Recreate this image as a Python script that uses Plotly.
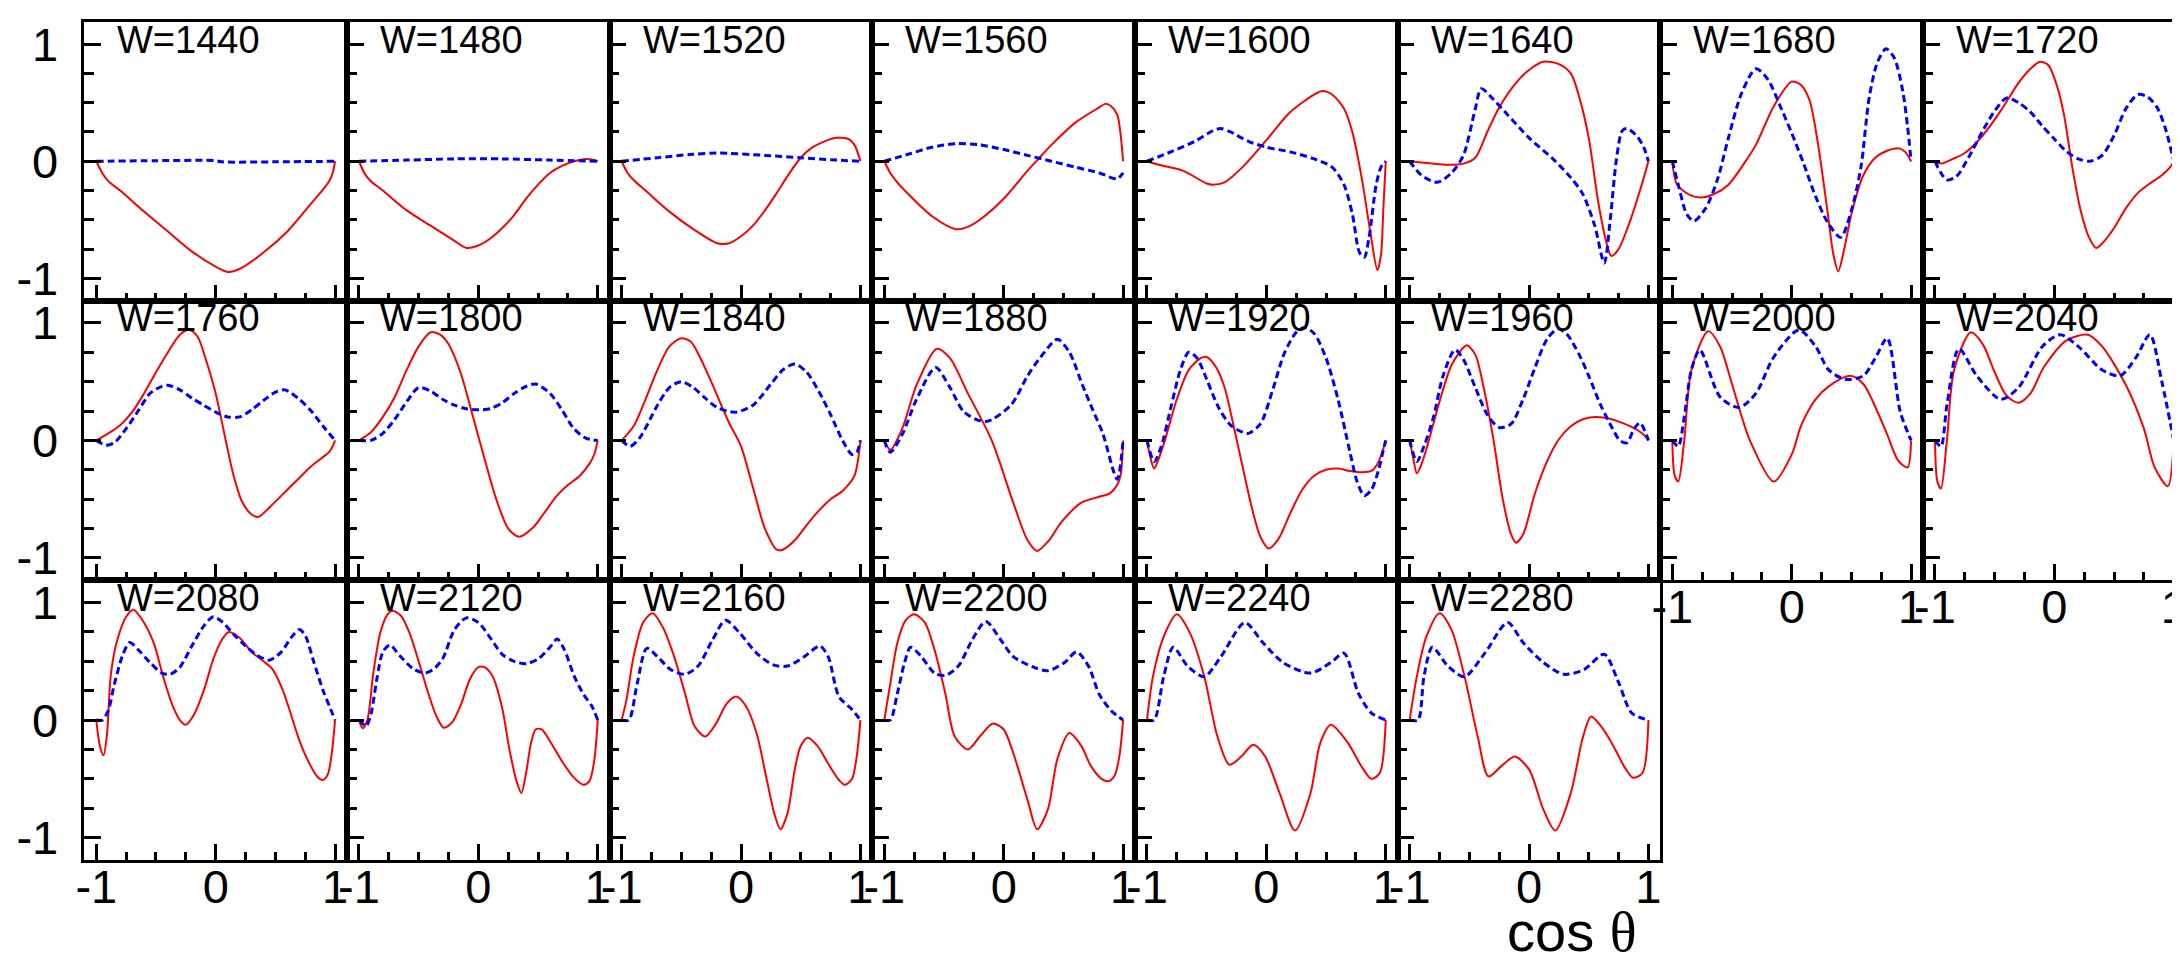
import plotly.graph_objects as go

# ---------------- data ----------------
W_LABELS = [1440, 1480, 1520, 1560, 1600, 1640, 1680, 1720,
            1760, 1800, 1840, 1880, 1920, 1960, 2000, 2040,
            2080, 2120, 2160, 2200, 2240, 2280]
X_TICKS = [-1, 0, 1]
Y_TICKS = [-1, 0, 1]
MINOR_TICKS = [-0.75, -0.5, -0.25, 0.25, 0.5, 0.75]

r1440_x = [-1, -0.95, -0.9, -0.8, -0.6, -0.4, -0.2, 0, 0.1, 0.2, 0.4, 0.6, 0.8, 0.9, 0.95, 0.98, 1]
r1440_y = [0, -0.1, -0.17, -0.25, -0.43, -0.6, -0.77, -0.9, -0.945, -0.92, -0.78, -0.6, -0.36, -0.24, -0.17, -0.1, 0]
b1440_x = [-1, -0.5, 0, 0.05, 0.5, 1]
b1440_y = [0, 0.005, 0.005, -0.005, -0.005, 0]

r1480_x = [-1, -0.95, -0.9, -0.8, -0.6, -0.4, -0.2, -0.1, 0, 0.1, 0.2, 0.3, 0.4, 0.5, 0.6, 0.7, 0.8, 0.9, 0.95, 1]
r1480_y = [0, -0.11, -0.17, -0.25, -0.42, -0.55, -0.68, -0.74, -0.72, -0.66, -0.57, -0.46, -0.32, -0.2, -0.1, -0.04, 0.0, 0.02, 0.015, 0]
b1480_x = [-1, -0.6, -0.2, 0.2, 0.6, 1]
b1480_y = [0, 0.01, 0.02, 0.02, 0.01, 0]

r1520_x = [-1, -0.95, -0.9, -0.8, -0.6, -0.4, -0.2, -0.1, 0, 0.1, 0.2, 0.3, 0.4, 0.5, 0.6, 0.7, 0.8, 0.9, 0.95, 1]
r1520_y = [0, -0.1, -0.16, -0.25, -0.43, -0.58, -0.70, -0.70, -0.64, -0.55, -0.42, -0.27, -0.11, 0.03, 0.12, 0.17, 0.2, 0.19, 0.14, 0]
b1520_x = [-1, -0.7, -0.4, -0.2, 0.2, 0.5, 0.8, 1]
b1520_y = [0, 0.03, 0.06, 0.07, 0.05, 0.03, 0.01, 0]

r1560_x = [-1, -0.95, -0.9, -0.8, -0.6, -0.4, -0.3, -0.2, 0, 0.2, 0.3, 0.4, 0.6, 0.8, 0.85, 0.9, 0.95, 1]
r1560_y = [0, -0.1, -0.17, -0.28, -0.47, -0.58, -0.56, -0.5, -0.32, -0.08, 0.03, 0.14, 0.33, 0.46, 0.49, 0.47, 0.4, 0]
b1560_x = [-1, -0.8, -0.6, -0.4, -0.2, 0, 0.2, 0.4, 0.6, 0.8, 0.95, 1]
b1560_y = [0, 0.06, 0.12, 0.15, 0.14, 0.1, 0.05, 0.0, -0.05, -0.1, -0.15, -0.1]

r1600_x = [-1, -0.9, -0.7, -0.5, -0.45, -0.35, -0.2, 0, 0.2, 0.4, 0.47, 0.55, 0.65, 0.72, 0.8, 0.87, 0.93, 0.96, 0.98, 1]
r1600_y = [0, -0.03, -0.08, -0.19, -0.2, -0.18, -0.05, 0.18, 0.42, 0.57, 0.6, 0.57, 0.45, 0.25, -0.15, -0.6, -0.93, -0.8, -0.4, 0]
b1600_x = [-1, -0.8, -0.6, -0.45, -0.38, -0.3, -0.15, 0, 0.2, 0.4, 0.55, 0.65, 0.72, 0.78, 0.82, 0.86, 0.92, 0.96, 1]
b1600_y = [0, 0.08, 0.17, 0.26, 0.28, 0.25, 0.17, 0.12, 0.08, 0.02, -0.05, -0.2, -0.45, -0.78, -0.82, -0.65, -0.2, -0.05, 0]

r1640_x = [-1, -0.9, -0.7, -0.55, -0.45, -0.35, -0.25, -0.1, 0, 0.12, 0.25, 0.35, 0.42, 0.5, 0.58, 0.65, 0.69, 0.75, 0.85, 0.95, 1]
r1640_y = [0, -0.01, -0.03, -0.02, 0.03, 0.25, 0.46, 0.68, 0.78, 0.85, 0.83, 0.75, 0.55, 0.2, -0.35, -0.7, -0.81, -0.75, -0.5, -0.18, 0]
b1640_x = [-1, -0.9, -0.77, -0.65, -0.55, -0.45, -0.4, -0.3, -0.2, 0, 0.2, 0.35, 0.45, 0.55, 0.63, 0.68, 0.73, 0.78, 0.82, 0.9, 0.96, 1]
b1640_y = [0, -0.12, -0.18, -0.1, 0.05, 0.45, 0.62, 0.53, 0.42, 0.2, 0.02, -0.14, -0.28, -0.55, -0.87, -0.5, 0.0, 0.26, 0.28, 0.22, 0.12, 0]

r1680_x = [-1, -0.96, -0.85, -0.76, -0.65, -0.53, -0.4, -0.3, -0.15, 0, 0.08, 0.15, 0.22, 0.3, 0.35, 0.39, 0.44, 0.5, 0.6, 0.7, 0.8, 0.9, 0.95, 1]
r1680_y = [0, -0.2, -0.29, -0.31, -0.28, -0.2, -0.02, 0.14, 0.47, 0.68, 0.65, 0.52, 0.15, -0.43, -0.8, -0.94, -0.75, -0.45, -0.12, 0.03, 0.09, 0.11, 0.08, 0]
b1680_x = [-1, -0.95, -0.88, -0.82, -0.72, -0.62, -0.53, -0.42, -0.3, -0.2, -0.1, 0, 0.1, 0.2, 0.3, 0.41, 0.5, 0.58, 0.65, 0.72, 0.79, 0.86, 0.93, 0.97, 1]
b1680_y = [0, -0.2, -0.45, -0.51, -0.4, -0.15, 0.2, 0.58, 0.79, 0.7, 0.48, 0.24, -0.02, -0.3, -0.52, -0.65, -0.42, -0.05, 0.55, 0.85, 0.96, 0.88, 0.6, 0.3, 0]

r1720_x = [-1, -0.95, -0.85, -0.75, -0.6, -0.45, -0.3, -0.2, -0.12, -0.05, 0.02, 0.08, 0.15, 0.22, 0.29, 0.35, 0.42, 0.5, 0.6, 0.7, 0.8, 0.9, 0.97, 1]
r1720_y = [0, -0.02, 0.02, 0.07, 0.22, 0.43, 0.67, 0.79, 0.85, 0.82, 0.65, 0.4, -0.05, -0.42, -0.65, -0.74, -0.68, -0.57, -0.4, -0.27, -0.19, -0.12, -0.05, 0]
b1720_x = [-1, -0.95, -0.9, -0.82, -0.72, -0.6, -0.5, -0.4, -0.3, -0.2, -0.1, 0, 0.1, 0.2, 0.3, 0.4, 0.5, 0.6, 0.7, 0.78, 0.86, 0.93, 1]
b1720_y = [0, -0.1, -0.16, -0.13, 0.03, 0.26, 0.43, 0.54, 0.5, 0.42, 0.3, 0.19, 0.085, 0.02, 0.0, 0.05, 0.22, 0.45, 0.57, 0.55, 0.46, 0.28, 0]

r1760_x = [-1, -0.9, -0.8, -0.7, -0.6, -0.5, -0.4, -0.3, -0.22, -0.15, -0.08, 0, 0.08, 0.15, 0.22, 0.3, 0.36, 0.45, 0.6, 0.7, 0.8, 0.9, 0.95, 0.98, 1]
r1760_y = [0, 0.06, 0.13, 0.24, 0.4, 0.58, 0.75, 0.9, 0.94, 0.88, 0.68, 0.4, 0.02, -0.3, -0.52, -0.63, -0.65, -0.57, -0.42, -0.32, -0.22, -0.14, -0.1, -0.05, 0]
b1760_x = [-1, -0.92, -0.85, -0.75, -0.65, -0.55, -0.45, -0.4, -0.3, -0.2, -0.1, 0, 0.1, 0.2, 0.3, 0.4, 0.5, 0.58, 0.7, 0.8, 0.9, 1]
b1760_y = [0, -0.04, -0.02, 0.1, 0.25, 0.4, 0.46, 0.47, 0.43, 0.36, 0.3, 0.24, 0.2, 0.2, 0.26, 0.34, 0.41, 0.43, 0.35, 0.25, 0.12, 0]

r1800_x = [-1, -0.9, -0.8, -0.7, -0.6, -0.5, -0.4, -0.32, -0.25, -0.15, -0.05, 0.05, 0.15, 0.25, 0.34, 0.45, 0.55, 0.65, 0.75, 0.85, 0.93, 0.97, 1]
r1800_y = [0, 0.07, 0.2, 0.37, 0.6, 0.8, 0.92, 0.9, 0.82, 0.58, 0.22, -0.15, -0.5, -0.75, -0.82, -0.75, -0.62, -0.48, -0.38, -0.3, -0.2, -0.12, 0]
b1800_x = [-1, -0.9, -0.8, -0.7, -0.6, -0.5, -0.4, -0.3, -0.2, -0.1, 0, 0.1, 0.2, 0.3, 0.4, 0.48, 0.6, 0.7, 0.8, 0.9, 1]
b1800_y = [0, 0.0, 0.06, 0.18, 0.33, 0.45, 0.42, 0.35, 0.3, 0.27, 0.26, 0.27, 0.32, 0.4, 0.46, 0.48, 0.4, 0.26, 0.1, 0.02, 0]

r1840_x = [-1, -0.9, -0.8, -0.7, -0.6, -0.5, -0.42, -0.35, -0.25, -0.1, 0, 0.1, 0.2, 0.3, 0.35, 0.45, 0.55, 0.65, 0.75, 0.85, 0.95, 1]
r1840_y = [0, 0.12, 0.35, 0.6, 0.8, 0.87, 0.84, 0.72, 0.5, 0.15, -0.05, -0.4, -0.75, -0.93, -0.93, -0.85, -0.72, -0.6, -0.5, -0.43, -0.3, 0]
b1840_x = [-1, -0.93, -0.85, -0.7, -0.6, -0.5, -0.4, -0.3, -0.2, -0.05, 0.1, 0.25, 0.35, 0.45, 0.55, 0.65, 0.75, 0.85, 0.93, 0.97, 1]
b1840_y = [0, -0.05, 0.02, 0.3, 0.45, 0.5, 0.45, 0.36, 0.28, 0.24, 0.3, 0.48, 0.6, 0.65, 0.58, 0.42, 0.22, 0.0, -0.12, -0.1, 0]

r1880_x = [-1, -0.95, -0.85, -0.73, -0.56, -0.45, -0.3, -0.1, 0.08, 0.2, 0.28, 0.38, 0.48, 0.65, 0.8, 0.89, 0.95, 0.98, 1]
r1880_y = [0, -0.08, 0.1, 0.47, 0.78, 0.7, 0.4, 0.0, -0.53, -0.85, -0.94, -0.85, -0.7, -0.53, -0.48, -0.45, -0.38, -0.29, 0]
b1880_x = [-1, -0.95, -0.85, -0.73, -0.57, -0.45, -0.33, -0.15, 0.06, 0.2, 0.31, 0.45, 0.55, 0.66, 0.75, 0.83, 0.95, 1]
b1880_y = [0, -0.1, 0.05, 0.35, 0.62, 0.45, 0.24, 0.16, 0.3, 0.55, 0.71, 0.86, 0.75, 0.47, 0.25, 0.06, -0.33, 0]

r1920_x = [-1, -0.97, -0.94, -0.9, -0.85, -0.75, -0.65, -0.55, -0.5, -0.42, -0.35, -0.28, -0.2, -0.12, -0.05, 0.02, 0.1, 0.2, 0.3, 0.4, 0.5, 0.6, 0.7, 0.8, 0.88, 0.93, 0.97, 1]
r1920_y = [0, -0.15, -0.24, -0.15, 0.0, 0.35, 0.6, 0.7, 0.71, 0.62, 0.45, 0.15, -0.22, -0.58, -0.82, -0.92, -0.84, -0.62, -0.42, -0.3, -0.25, -0.24, -0.26, -0.27, -0.26, -0.2, -0.1, 0]
b1920_x = [-1, -0.94, -0.88, -0.8, -0.72, -0.65, -0.58, -0.5, -0.4, -0.3, -0.2, -0.15, -0.05, 0.05, 0.15, 0.25, 0.32, 0.4, 0.5, 0.6, 0.7, 0.76, 0.82, 0.88, 0.94, 0.98, 1]
b1920_y = [0, -0.18, -0.05, 0.28, 0.6, 0.75, 0.7, 0.52, 0.28, 0.13, 0.07, 0.06, 0.14, 0.42, 0.74, 0.92, 0.96, 0.91, 0.7, 0.35, -0.1, -0.35, -0.47, -0.42, -0.25, -0.08, 0]

r1960_x = [-1, -0.97, -0.94, -0.9, -0.85, -0.75, -0.65, -0.55, -0.52, -0.45, -0.38, -0.3, -0.22, -0.15, -0.11, -0.05, 0.05, 0.15, 0.25, 0.35, 0.45, 0.55, 0.65, 0.75, 0.85, 0.92, 0.97, 1]
r1960_y = [0, -0.15, -0.28, -0.2, -0.04, 0.33, 0.64, 0.79, 0.81, 0.73, 0.45, 0.02, -0.5, -0.8, -0.87, -0.8, -0.45, -0.18, 0.01, 0.12, 0.18, 0.2, 0.19, 0.16, 0.12, 0.08, 0.04, 0]
b1960_x = [-1, -0.94, -0.88, -0.8, -0.72, -0.62, -0.55, -0.45, -0.35, -0.25, -0.15, -0.05, 0.05, 0.15, 0.24, 0.32, 0.42, 0.5, 0.6, 0.7, 0.76, 0.82, 0.88, 0.93, 0.97, 1]
b1960_y = [0, -0.18, -0.05, 0.2, 0.55, 0.77, 0.69, 0.45, 0.22, 0.11, 0.14, 0.35, 0.62, 0.86, 0.95, 0.9, 0.73, 0.55, 0.3, 0.1, 0.0, -0.02, 0.1, 0.15, 0.08, 0]

r2000_x = [-1, -0.98, -0.95, -0.9, -0.84, -0.7, -0.6, -0.5, -0.35, -0.15, 0.0, 0.08, 0.2, 0.31, 0.49, 0.6, 0.72, 0.8, 0.89, 0.97, 1]
r2000_y = [0, -0.3, -0.35, 0.0, 0.6, 0.93, 0.8, 0.48, 0.0, -0.35, -0.12, 0.13, 0.35, 0.46, 0.55, 0.48, 0.24, 0.05, -0.17, -0.23, 0]
b2000_x = [-1, -0.95, -0.9, -0.84, -0.77, -0.6, -0.44, -0.3, -0.15, 0.06, 0.2, 0.31, 0.45, 0.6, 0.7, 0.8, 0.91, 1]
b2000_y = [0, -0.05, 0.2, 0.6, 0.77, 0.37, 0.28, 0.4, 0.71, 0.94, 0.8, 0.6, 0.52, 0.55, 0.7, 0.87, 0.24, 0]

r2040_x = [-1, -0.98, -0.95, -0.9, -0.84, -0.7, -0.6, -0.5, -0.4, -0.3, -0.2, -0.09, 0.1, 0.28, 0.4, 0.6, 0.75, 0.84, 0.95, 1]
r2040_y = [0, -0.35, -0.41, 0.0, 0.6, 0.92, 0.82, 0.58, 0.38, 0.32, 0.4, 0.62, 0.85, 0.9, 0.8, 0.47, 0.1, -0.23, -0.39, 0]
b2040_x = [-1, -0.95, -0.9, -0.8, -0.65, -0.45, -0.3, -0.1, 0.05, 0.2, 0.4, 0.55, 0.68, 0.8, 0.9, 1]
b2040_y = [0, -0.05, 0.3, 0.78, 0.55, 0.35, 0.45, 0.8, 0.9, 0.8, 0.6, 0.55, 0.7, 0.9, 0.5, 0]

r2080_x = [-1, -0.97, -0.94, -0.91, -0.88, -0.83, -0.75, -0.69, -0.62, -0.52, -0.44, -0.36, -0.3, -0.25, -0.18, -0.1, -0.02, 0.05, 0.11, 0.2, 0.3, 0.4, 0.47, 0.56, 0.63, 0.7, 0.78, 0.85, 0.9, 0.94, 0.97, 1]
r2080_y = [0, -0.22, -0.3, -0.12, 0.37, 0.66, 0.88, 0.94, 0.86, 0.66, 0.37, 0.12, 0.0, -0.04, 0.05, 0.25, 0.52, 0.68, 0.75, 0.7, 0.58, 0.5, 0.44, 0.26, 0.05, -0.17, -0.36, -0.48, -0.51, -0.46, -0.3, 0]
b2080_x = [-1, -0.95, -0.9, -0.85, -0.78, -0.72, -0.65, -0.55, -0.45, -0.38, -0.3, -0.2, -0.1, -0.02, 0.05, 0.15, 0.25, 0.35, 0.45, 0.55, 0.63, 0.7, 0.75, 0.82, 0.9, 0.96, 1]
b2080_y = [0, 0.0, 0.08, 0.3, 0.55, 0.66, 0.6, 0.49, 0.4, 0.39, 0.45, 0.63, 0.8, 0.88, 0.84, 0.73, 0.63, 0.55, 0.51, 0.58, 0.7, 0.77, 0.72, 0.5, 0.25, 0.1, 0]

r2120_x = [-1, -0.97, -0.93, -0.88, -0.82, -0.76, -0.72, -0.65, -0.58, -0.5, -0.42, -0.35, -0.29, -0.22, -0.15, -0.07, 0.0, 0.05, 0.12, 0.2, 0.26, 0.32, 0.36, 0.4, 0.44, 0.48, 0.53, 0.6, 0.7, 0.8, 0.88, 0.93, 0.97, 1]
r2120_y = [0, -0.07, 0.0, 0.4, 0.75, 0.9, 0.93, 0.89, 0.75, 0.5, 0.23, 0.03, -0.065, -0.02, 0.12, 0.35, 0.45, 0.45, 0.37, 0.1, -0.25, -0.52, -0.62, -0.45, -0.2, -0.08, -0.08, -0.18, -0.35, -0.49, -0.55, -0.52, -0.35, 0]
b2120_x = [-1, -0.94, -0.9, -0.85, -0.8, -0.74, -0.66, -0.55, -0.45, -0.38, -0.3, -0.2, -0.1, 0.0, 0.1, 0.2, 0.3, 0.4, 0.5, 0.6, 0.66, 0.72, 0.8, 0.88, 0.95, 1]
b2120_y = [0, -0.05, 0.05, 0.35, 0.58, 0.64, 0.55, 0.44, 0.4, 0.43, 0.52, 0.77, 0.87, 0.83, 0.7, 0.56, 0.5, 0.48, 0.52, 0.62, 0.69, 0.6, 0.38, 0.22, 0.12, 0]

r2160_x = [-1, -0.96, -0.9, -0.82, -0.74, -0.65, -0.56, -0.47, -0.39, -0.3, -0.21, -0.12, -0.04, 0.04, 0.13, 0.21, 0.28, 0.33, 0.39, 0.45, 0.5, 0.56, 0.64, 0.73, 0.82, 0.87, 0.93, 0.97, 1]
r2160_y = [0, 0.17, 0.54, 0.83, 0.91, 0.78, 0.54, 0.23, -0.05, -0.14, -0.03, 0.14, 0.2, 0.12, -0.11, -0.48, -0.8, -0.93, -0.79, -0.42, -0.22, -0.15, -0.22, -0.37, -0.51, -0.55, -0.5, -0.3, 0]
b2160_x = [-1, -0.94, -0.87, -0.79, -0.7, -0.59, -0.47, -0.36, -0.24, -0.13, -0.01, 0.13, 0.27, 0.39, 0.53, 0.66, 0.73, 0.82, 0.93, 1]
b2160_y = [0, 0.0, 0.31, 0.61, 0.54, 0.43, 0.39, 0.46, 0.68, 0.85, 0.74, 0.57, 0.47, 0.46, 0.54, 0.63, 0.54, 0.2, 0.09, 0]

r2200_x = [-1, -0.95, -0.89, -0.82, -0.75, -0.66, -0.58, -0.49, -0.41, -0.3, -0.2, -0.09, 0.0, 0.08, 0.2, 0.28, 0.37, 0.45, 0.55, 0.65, 0.73, 0.82, 0.88, 0.93, 0.97, 1]
r2200_y = [0, 0.31, 0.66, 0.85, 0.9, 0.83, 0.6, 0.23, -0.14, -0.25, -0.14, -0.03, -0.08, -0.28, -0.68, -0.93, -0.76, -0.33, -0.11, -0.22, -0.39, -0.5, -0.52, -0.47, -0.3, 0]
b2200_x = [-1, -0.95, -0.89, -0.83, -0.78, -0.69, -0.58, -0.49, -0.38, -0.26, -0.15, -0.03, 0.08, 0.25, 0.37, 0.51, 0.61, 0.71, 0.8, 0.9, 1]
b2200_y = [0, 0.0, 0.23, 0.49, 0.62, 0.54, 0.4, 0.38, 0.46, 0.69, 0.84, 0.69, 0.54, 0.45, 0.42, 0.49, 0.58, 0.46, 0.22, 0.08, 0]

r2240_x = [-1, -0.95, -0.86, -0.75, -0.64, -0.52, -0.41, -0.31, -0.21, -0.11, -0.01, 0.11, 0.24, 0.37, 0.45, 0.54, 0.68, 0.8, 0.88, 0.95, 1]
r2240_y = [0, 0.37, 0.71, 0.9, 0.74, 0.37, -0.14, -0.38, -0.31, -0.21, -0.31, -0.62, -0.94, -0.62, -0.2, -0.04, -0.19, -0.4, -0.5, -0.45, 0]
b2240_x = [-1, -0.94, -0.86, -0.78, -0.66, -0.52, -0.38, -0.18, -0.03, 0.14, 0.37, 0.54, 0.65, 0.77, 0.88, 1]
b2240_y = [0, 0.0, 0.37, 0.62, 0.46, 0.37, 0.54, 0.83, 0.66, 0.49, 0.4, 0.49, 0.57, 0.23, 0.06, 0]

r2280_x = [-1, -0.94, -0.86, -0.75, -0.65, -0.54, -0.43, -0.34, -0.23, -0.12, 0.0, 0.12, 0.22, 0.35, 0.45, 0.52, 0.6, 0.69, 0.8, 0.87, 0.95, 1]
r2280_y = [0, 0.37, 0.71, 0.91, 0.77, 0.37, -0.14, -0.48, -0.39, -0.31, -0.42, -0.76, -0.94, -0.62, -0.15, 0.03, -0.05, -0.19, -0.4, -0.49, -0.45, 0]
b2280_x = [-1, -0.93, -0.88, -0.81, -0.68, -0.54, -0.37, -0.18, -0.05, 0.12, 0.29, 0.46, 0.63, 0.75, 0.86, 1]
b2280_y = [0, 0.0, 0.37, 0.62, 0.46, 0.37, 0.57, 0.83, 0.66, 0.49, 0.39, 0.43, 0.56, 0.32, 0.06, 0]

PANELS = [
    (r1440_x, r1440_y, b1440_x, b1440_y), (r1480_x, r1480_y, b1480_x, b1480_y),
    (r1520_x, r1520_y, b1520_x, b1520_y), (r1560_x, r1560_y, b1560_x, b1560_y),
    (r1600_x, r1600_y, b1600_x, b1600_y), (r1640_x, r1640_y, b1640_x, b1640_y),
    (r1680_x, r1680_y, b1680_x, b1680_y), (r1720_x, r1720_y, b1720_x, b1720_y),
    (r1760_x, r1760_y, b1760_x, b1760_y), (r1800_x, r1800_y, b1800_x, b1800_y),
    (r1840_x, r1840_y, b1840_x, b1840_y), (r1880_x, r1880_y, b1880_x, b1880_y),
    (r1920_x, r1920_y, b1920_x, b1920_y), (r1960_x, r1960_y, b1960_x, b1960_y),
    (r2000_x, r2000_y, b2000_x, b2000_y), (r2040_x, r2040_y, b2040_x, b2040_y),
    (r2080_x, r2080_y, b2080_x, b2080_y), (r2120_x, r2120_y, b2120_x, b2120_y),
    (r2160_x, r2160_y, b2160_x, b2160_y), (r2200_x, r2200_y, b2200_x, b2200_y),
    (r2240_x, r2240_y, b2240_x, b2240_y), (r2280_x, r2280_y, b2280_x, b2280_y),
]

# ---------------- layout geometry ----------------
FIG_W, FIG_H = 2180, 965
LEFT = 67.7
PANEL_W = 264.0
ROW_EDGES = [10, 291, 573, 855]
NCOL = 8
FONT = "Liberation Sans, Arial, Helvetica, sans-serif"

fig = go.Figure()
layout = {}
for i, (rx, ry, bx, by) in enumerate(PANELS):
    r, c = divmod(i, NCOL)
    n = i + 1
    xa = "x" if n == 1 else f"x{n}"
    ya = "y" if n == 1 else f"y{n}"
    fig.add_trace(go.Scatter(x=rx, y=ry, mode="lines", xaxis=xa, yaxis=ya,
                             line=dict(color="#ff0000", width=2, shape="spline", smoothing=0.8),
                             showlegend=False, hoverinfo="skip"))
    fig.add_trace(go.Scatter(x=bx, y=by, mode="lines", xaxis=xa, yaxis=ya,
                             line=dict(color="#0000ff", width=3, dash="7px,4px", shape="spline", smoothing=0.8),
                             showlegend=False, hoverinfo="skip"))
    x0 = (LEFT + PANEL_W * c) / FIG_W
    x1 = min((LEFT + PANEL_W * (c + 1)) / FIG_W, 1.0)
    y_top = 1 - ROW_EDGES[r] / FIG_H
    y_bot = 1 - ROW_EDGES[r + 1] / FIG_H
    is_bottom = (r == 2) or (r == 1 and c >= 6)
    is_left = (c == 0)
    layout["xaxis" if n == 1 else f"xaxis{n}"] = dict(
        domain=[x0, x1], anchor=ya, range=[-1.1, 1.1],
        showline=True, mirror=True, linecolor="black", linewidth=2.5,
        showgrid=False, zeroline=False,
        tickmode="array", tickvals=X_TICKS, ticktext=[str(v) for v in X_TICKS],
        ticks="inside", ticklen=16, tickwidth=2.5, tickcolor="black",
        minor=dict(tickmode="array", tickvals=MINOR_TICKS,
                   ticks="inside", ticklen=8, tickwidth=2.5, tickcolor="black", showgrid=False),
        showticklabels=is_bottom, ticklabelstandoff=-16,
        tickfont=dict(family=FONT, size=47, color="black"),
    )
    layout["yaxis" if n == 1 else f"yaxis{n}"] = dict(
        domain=[y_bot, y_top], anchor=xa, range=[-1.19, 1.19],
        showline=True, mirror=True, linecolor="black", linewidth=2.5,
        showgrid=False, zeroline=False,
        tickmode="array", tickvals=Y_TICKS, ticktext=[str(v) for v in Y_TICKS],
        ticks="inside", ticklen=17, tickwidth=2.5, tickcolor="black",
        minor=dict(tickmode="array", tickvals=MINOR_TICKS,
                   ticks="inside", ticklen=10, tickwidth=2.5, tickcolor="black", showgrid=False),
        showticklabels=is_left, ticklabelstandoff=14,
        tickfont=dict(family=FONT, size=47, color="black"),
    )
    fig.add_annotation(text=f"W={W_LABELS[i]}", xref="paper", yref="paper",
                       x=(LEFT + PANEL_W * c + 32) / FIG_W,
                       y=1 - (ROW_EDGES[r] + 18) / FIG_H,
                       xanchor="left", yanchor="middle", showarrow=False, borderpad=0,
                       font=dict(family=FONT, size=38, color="black"))

fig.add_annotation(text="cos <span style='font-family:Liberation Serif'>θ</span>",
                   xref="paper", yref="paper",
                   x=(LEFT + PANEL_W * 6 - 22) / FIG_W, y=1 - 927 / FIG_H,
                   xanchor="right", yanchor="middle", showarrow=False, borderpad=0,
                   font=dict(family=FONT, size=56, color="black"))

fig.update_layout(**layout)
fig.update_layout(width=FIG_W, height=FIG_H, margin=dict(l=0, r=0, t=0, b=0),
                  paper_bgcolor="white", plot_bgcolor="white")
fig.write_html("out.html")
